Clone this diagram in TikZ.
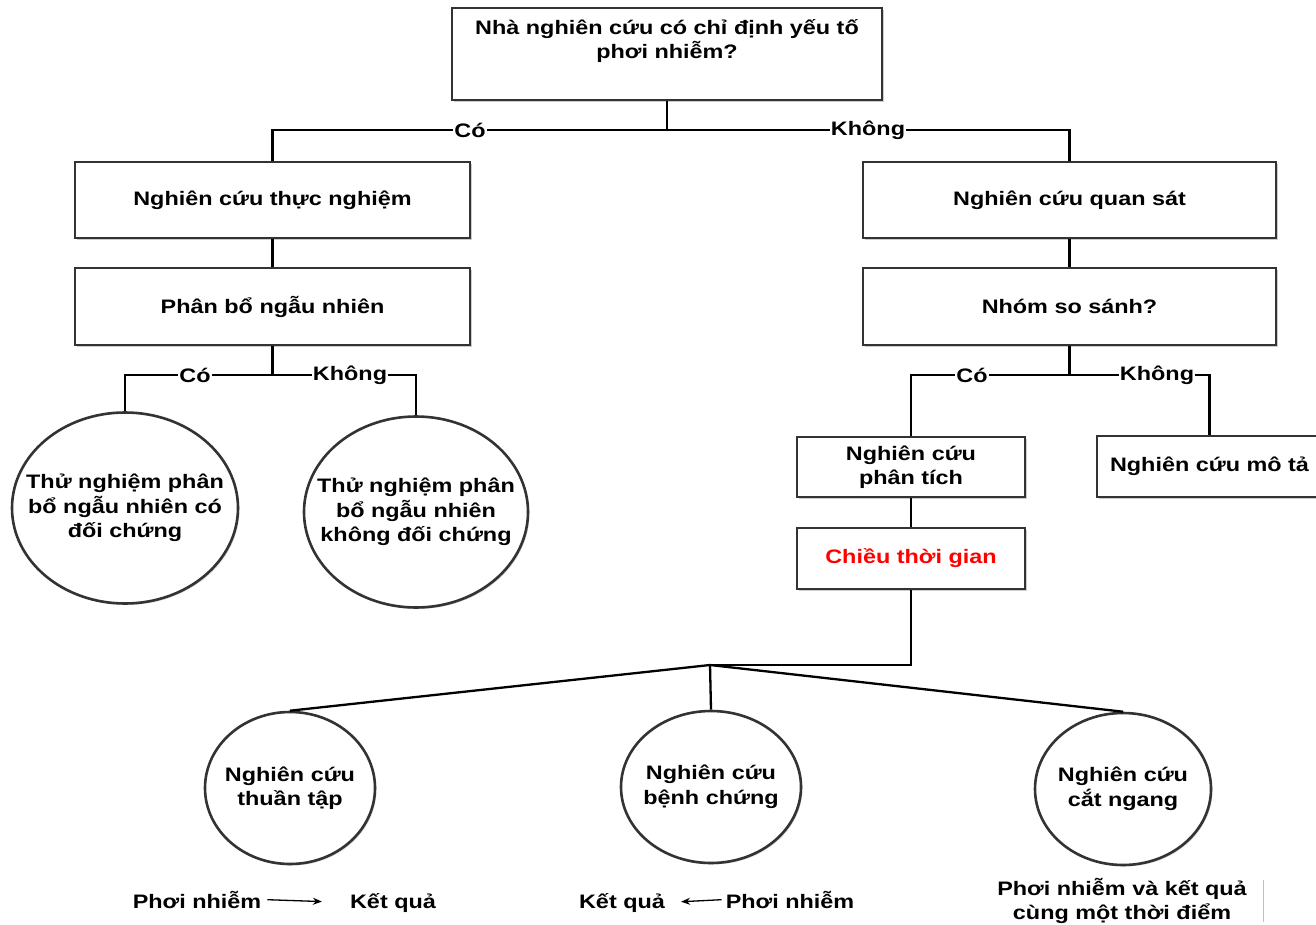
\documentclass[tikz,border=0pt]{standalone}
\usepackage{fontspec}
\setmainfont[FakeStretch=1.2]{Liberation Sans}
\usetikzlibrary{shapes.geometric,shadows,arrows.meta}
\begin{document}
\begin{tikzpicture}[x=1pt,y=-1pt,
  txtf/.style={font=\fontsize{19.5}{24.5}\selectfont\bfseries},
  box/.style={draw=black!80, line width=2.6pt, fill=white, inner sep=0pt, align=center, txtf,
    drop shadow={shadow xshift=2pt, shadow yshift=-2pt, fill=black!40, opacity=0.5}},
  circ/.style={ellipse, draw=black!80, line width=2.6pt, fill=white, inner sep=0pt,
    drop shadow={shadow xshift=1.5pt, shadow yshift=-1.5pt, fill=black!40, opacity=0.4}},
  txt/.style={inner sep=0pt, align=center, txtf},
  conn/.style={line width=2.3pt, black},
  lab/.style={fill=white, inner sep=1pt, txtf},
  arr/.style={line width=1.3pt, black, -{Stealth[length=9pt,width=7pt]}},
]
\useasboundingbox (0,0) rectangle (1316,925);

% top question
\node[box, minimum width=430, minimum height=92] (q) at (667,54) {};
\node[txt] (qt) at (667,41) {Nhà nghiên cứu có chỉ định yếu tố\\phơi nhiễm?};

% level 2
\node[box, minimum width=395, minimum height=76] (tn) at (272.5,200) {Nghiên cứu thực nghiệm};
\node[box, minimum width=413, minimum height=76] (qs) at (1069.5,200) {Nghiên cứu quan sát};
\node[box, minimum width=395, minimum height=77] (pb) at (272.5,306.5) {Phân bổ ngẫu nhiên};
\node[box, minimum width=413, minimum height=77] (ss) at (1069.5,306.5) {Nhóm so sánh?};

% left ellipses
\node[circ, minimum width=226, minimum height=191] (e1) at (125,508) {};
\node[txt] (e1t) at (125,508) {Thử nghiệm phân\\bổ ngẫu nhiên có\\đối chứng};
\node[circ, minimum width=224, minimum height=191] (e2) at (416,512) {};
\node[txt] (e2t) at (416,512) {Thử nghiệm phân\\bổ ngẫu nhiên\\không đối chứng};

% right boxes
\node[box, minimum width=228, minimum height=60] (pt) at (911,467) {Nghiên cứu\\phân tích};
\node[box, minimum width=225, minimum height=61] (mt) at (1209.5,466.5) {Nghiên cứu mô tả};
\node[box, minimum width=228, minimum height=61, text=red] (ct) at (911,558.5) {Chiều thời gian};

% bottom circles
\node[circ, minimum width=170, minimum height=152] (c1) at (290,788) {};
\node[txt] (c1t) at (290,788) {Nghiên cứu\\thuần tập};
\node[circ, minimum width=180, minimum height=152] (c2) at (711,787) {};
\node[txt] (c2t) at (711,787) {Nghiên cứu\\bệnh chứng};
\node[circ, minimum width=176, minimum height=152] (c3) at (1123,789) {};
\node[txt] (c3t) at (1123,789) {Nghiên cứu\\cắt ngang};

% junctions
\coordinate (j1) at (667,130);
\coordinate (j2) at (272.5,375);
\coordinate (j3) at (1069.5,375);
\coordinate (j4) at (710,665);

% connectors
\draw[conn] (q.south) -- (j1);
\draw[conn] (tn.north) |- (j1) -| (qs.north);
\draw[conn] (tn.south) -- (pb.north);
\draw[conn] (qs.south) -- (ss.north);
\draw[conn] (pb.south) -- (j2);
\draw[conn] (e1.north) |- (j2) -| (e2.north);
\draw[conn] (ss.south) -- (j3);
\draw[conn] (pt.north) |- (j3) -| (mt.north);
\draw[conn] (pt.south) -- (ct.north);
\draw[conn] (ct.south) |- (j4);
\draw[conn] (j4) -- (c1.north);
\draw[conn] (j4) -- (c2.north);
\draw[conn] (j4) -- (c3.north);

% branch labels
\node[lab] (l1) at (470,130) {Có};
\node[lab] (l2) at (868,130) {Không};
\node[lab] (l3) at (195,375) {Có};
\node[lab] (l4) at (350,375) {Không};
\node[lab] (l5) at (972,375) {Có};
\node[lab] (l6) at (1157,375) {Không};

% bottom annotations
\node[txt, anchor=base] (b1) at (197,908) {Phơi nhiễm};
\node[txt, anchor=base] (b2) at (393,908) {Kết quả};
\draw[arr, shorten <=6pt, shorten >=28pt] (b1.east) -- (b2.west);
\node[txt, anchor=base] (b3) at (622,908) {Kết quả};
\node[txt, anchor=base] (b4) at (790,908) {Phơi nhiễm};
\draw[arr, shorten <=4pt, shorten >=16pt] (b4.west) -- (b3.east);
\node[txt] (b5) at (1122,901) {Phơi nhiễm và kết quả\\cùng một thời điểm};
\coordinate (g1) at (1263,880);
\coordinate (g2) at (1263,922);
\draw[black!25, line width=1pt] (g1) -- (g2);
\end{tikzpicture}
\end{document}
